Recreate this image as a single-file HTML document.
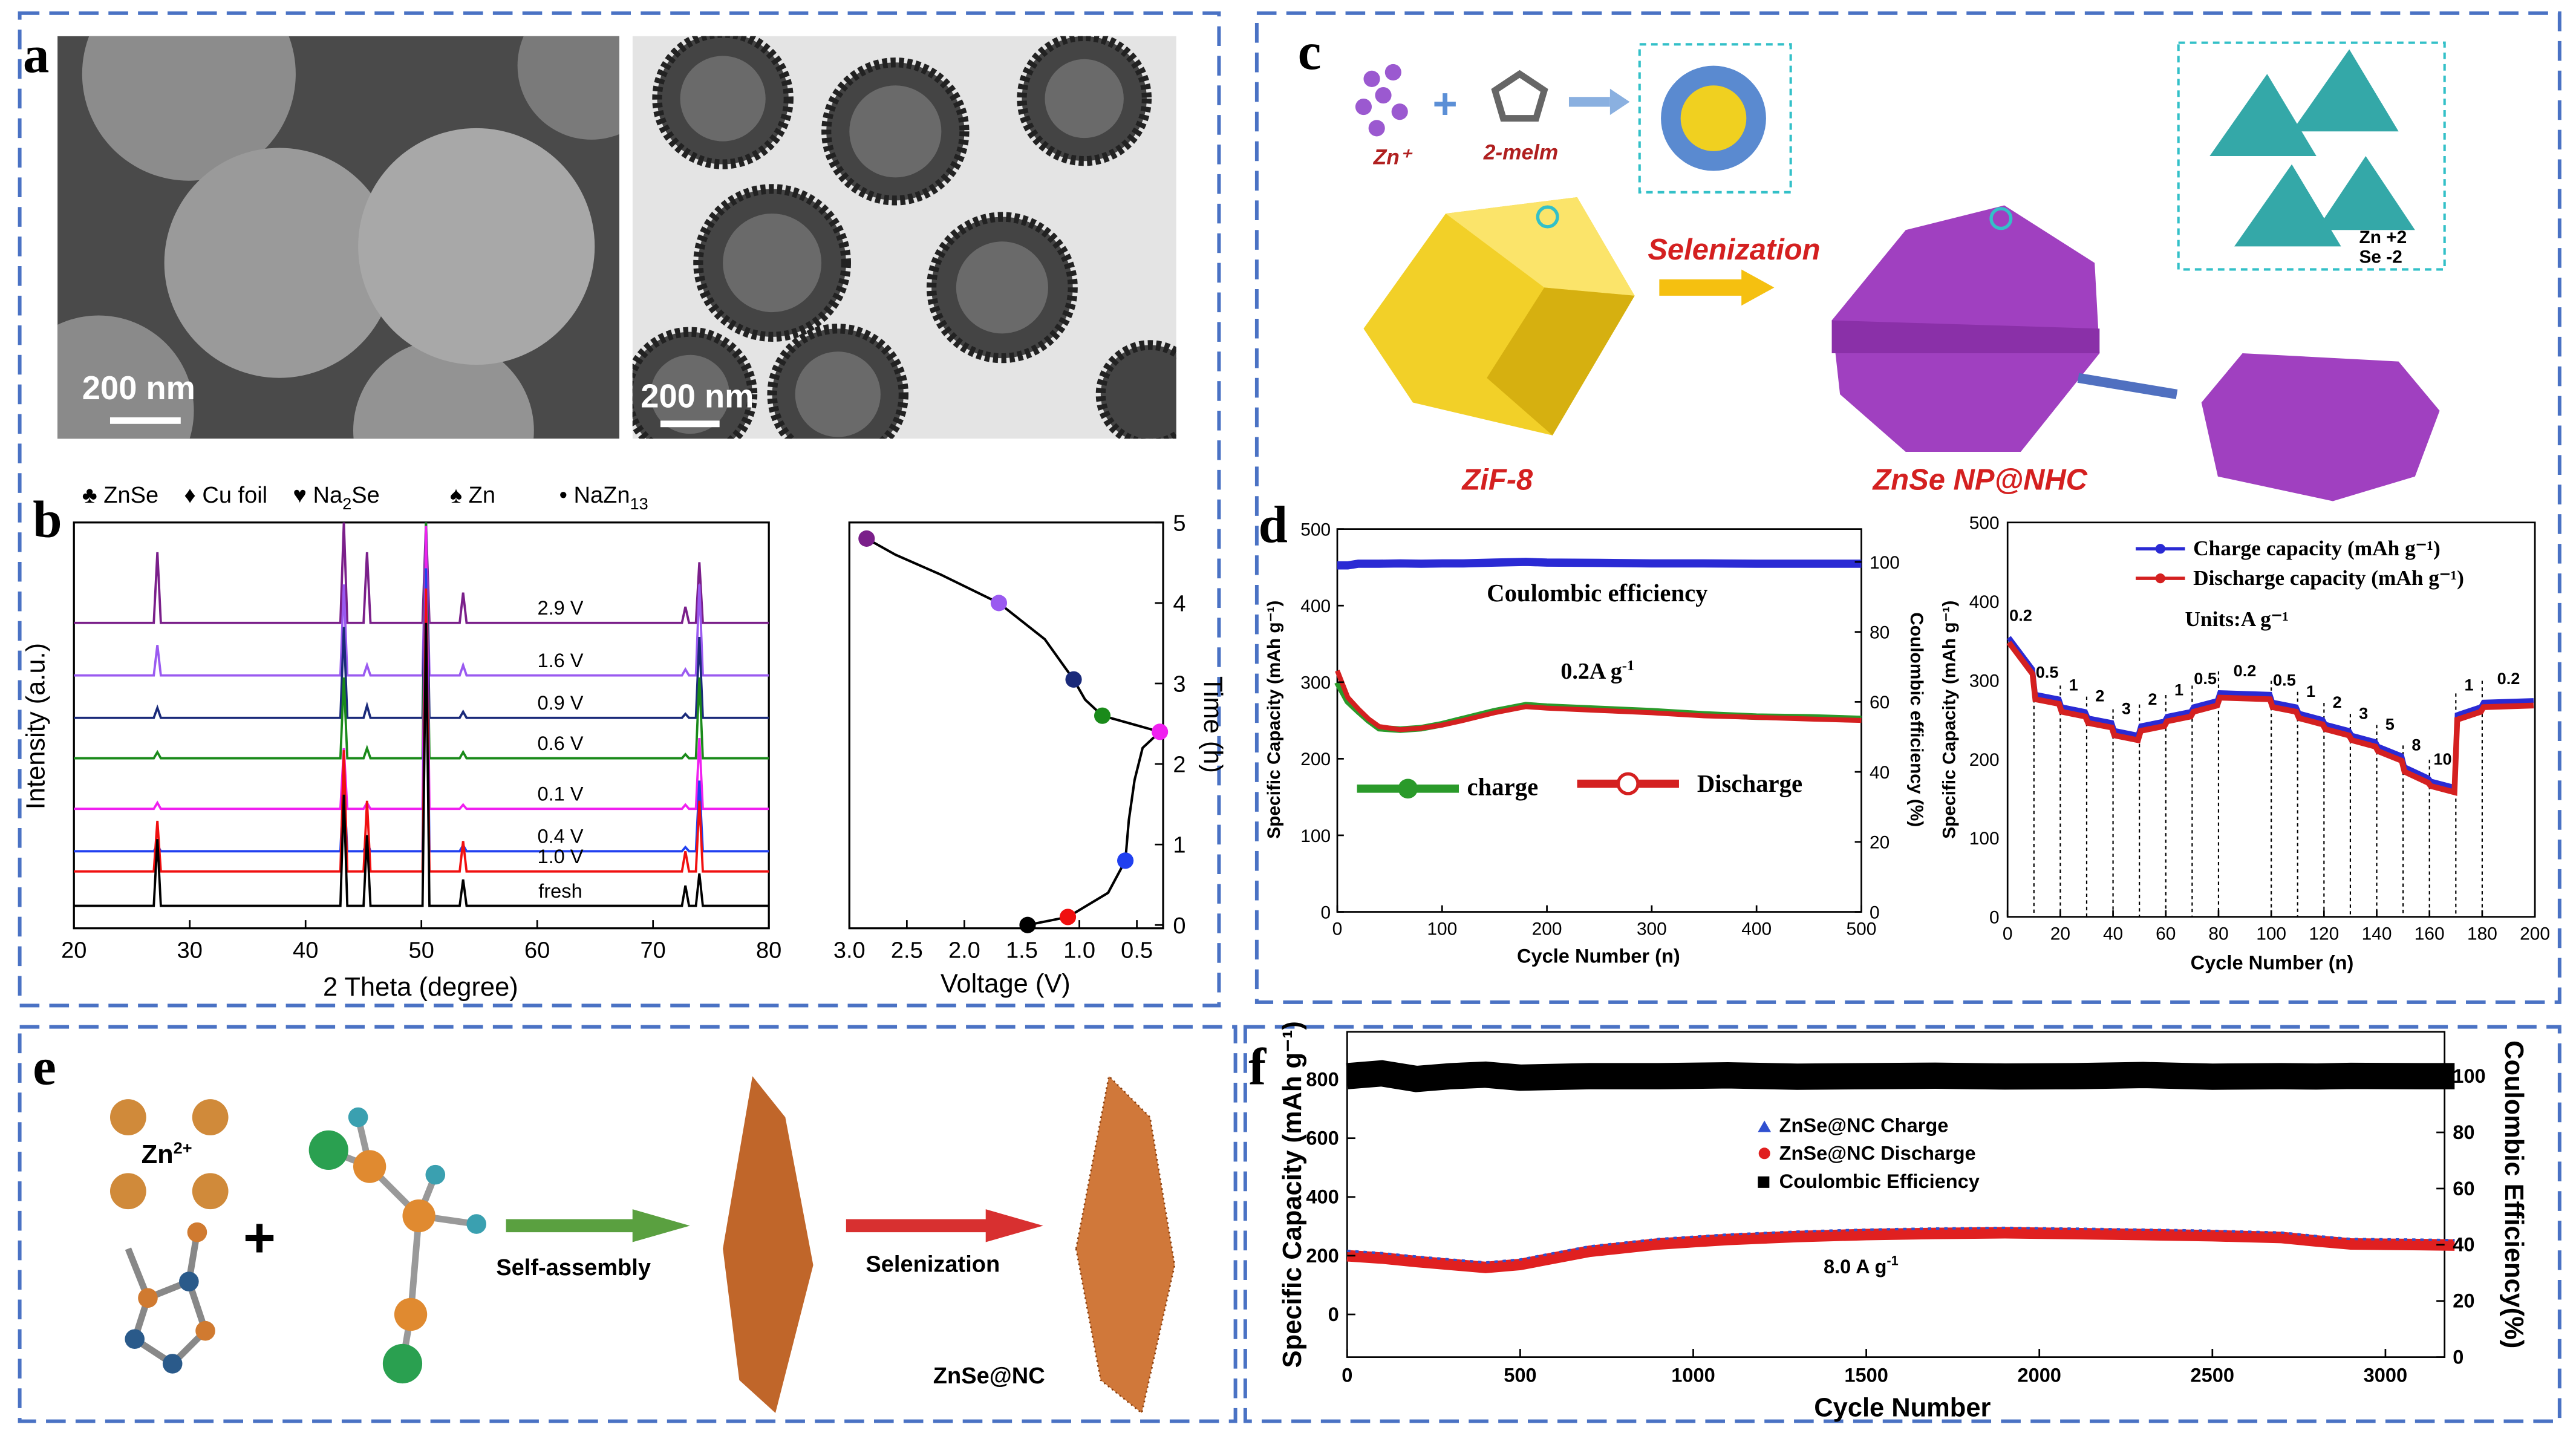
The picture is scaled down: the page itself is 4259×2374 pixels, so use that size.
<!DOCTYPE html>
<html><head><meta charset="utf-8">
<style>
html,body{margin:0;padding:0;background:#fff;}
svg{display:block;font-family:"Liberation Sans",sans-serif;}
.lt{font-family:"Liberation Serif",serif;font-weight:bold;}
</style></head>
<body>
<svg id="fig" width="4259" height="2374" viewBox="0 0 1568 874" preserveAspectRatio="none" xmlns="http://www.w3.org/2000/svg">
<defs>
<clipPath id="clipSem"><rect x="35" y="22" width="342" height="245"/></clipPath>
<clipPath id="clipTem"><rect x="385" y="22" width="331" height="245"/></clipPath>
</defs>
<rect width="1568" height="874" fill="#fff"/>
<g fill="none" stroke="#4a72c4" stroke-width="2.2" stroke-dasharray="12,6">
<rect x="12" y="8" width="730" height="604"/>
<rect x="765" y="8" width="793" height="602"/>
<rect x="12" y="625" width="740" height="240"/>
<rect x="758" y="625" width="800" height="240"/>
</g>

<!-- Panel a -->
<g>
<g clip-path="url(#clipSem)">
<rect x="35" y="22" width="342" height="245" fill="#4a4a4a"/>
<circle cx="115" cy="45" r="65" fill="#8c8c8c"/><circle cx="360" cy="40" r="45" fill="#7a7a7a"/>
<circle cx="60" cy="250" r="58" fill="#8a8a8a"/><circle cx="270" cy="262" r="55" fill="#939393"/>
<circle cx="170" cy="160" r="70" fill="#9a9a9a"/><circle cx="290" cy="150" r="72" fill="#a8a8a8"/>
</g>
<text x="50" y="243" font-size="20" font-weight="bold" fill="#fff">200 nm</text>
<rect x="67" y="254" width="43" height="4" fill="#fff"/>
<g clip-path="url(#clipTem)">
<rect x="385" y="22" width="331" height="245" fill="#e4e4e4"/>
<g fill="#444" stroke="#222" stroke-width="6" stroke-dasharray="3,2">
<circle cx="440" cy="60" r="40"/><circle cx="545" cy="80" r="42"/><circle cx="660" cy="60" r="38"/>
<circle cx="470" cy="160" r="45"/><circle cx="610" cy="175" r="43"/>
<circle cx="420" cy="240" r="38"/><circle cx="510" cy="240" r="40"/><circle cx="700" cy="240" r="30"/>
</g>
<g fill="#6a6a6a"><circle cx="440" cy="60" r="26"/><circle cx="545" cy="80" r="28"/><circle cx="660" cy="60" r="24"/><circle cx="470" cy="160" r="30"/><circle cx="610" cy="175" r="28"/><circle cx="420" cy="240" r="24"/><circle cx="510" cy="240" r="26"/></g>
</g>
<text x="390" y="248" font-size="20" font-weight="bold" fill="#fff">200 nm</text>
<rect x="402" y="256" width="36" height="4" fill="#fff"/>
<text class="lt" x="14" y="44" font-size="32">a</text>
</g>

<!-- Panel b -->
<g>
<text class="lt" x="20" y="327" font-size="32">b</text>
<rect x="45" y="318" width="423" height="247" fill="none" stroke="#000" stroke-width="1.2"/>
<g id="xrd"></g>
<g id="xrdAxis" font-size="14"></g>
<text x="256" y="606" font-size="16" text-anchor="middle">2 Theta (degree)</text>
<text transform="translate(27,442) rotate(-90)" font-size="16" text-anchor="middle">Intensity (a.u.)</text>
<text x="50" y="306" font-size="14" xml:space="preserve">♣ ZnSe    ♦ Cu foil    ♥ Na<tspan font-size="10" dy="4">2</tspan><tspan dy="-4">Se           ♠ Zn          • NaZn</tspan><tspan font-size="10" dy="4">13</tspan></text>
<rect x="517" y="318" width="191" height="247" fill="none" stroke="#000" stroke-width="1.2"/>
<g id="vt"></g>
<g id="vtAxis" font-size="14"></g>
<text x="612" y="604" font-size="16" text-anchor="middle">Voltage (V)</text>
<text transform="translate(733,441) rotate(90)" font-size="16" text-anchor="middle">Time (h)</text>
</g>

<!-- Panel c -->
<g>
<text class="lt" x="790" y="42" font-size="32">c</text>
<g fill="#9b59d0"><circle cx="835" cy="48" r="5"/><circle cx="848" cy="44" r="5"/><circle cx="842" cy="58" r="5"/><circle cx="830" cy="65" r="5"/><circle cx="852" cy="68" r="5"/><circle cx="838" cy="78" r="5"/></g>
<text x="836" y="100" font-size="13" fill="#b02020" font-style="italic" font-weight="bold">Zn⁺</text>
<text x="872" y="72" font-size="26" fill="#5b8fd6" font-weight="bold">+</text>
<polygon points="910,55 925,45 940,55 935,72 915,72" fill="none" stroke="#666" stroke-width="4"/>
<text x="903" y="97" font-size="13" fill="#b02020" font-style="italic" font-weight="bold">2-melm</text>
<path d="M955 62 L980 62" stroke="#8ab0e0" stroke-width="6"/><polygon points="980,54 992,62 980,70" fill="#8ab0e0"/>
<rect x="998" y="27" width="92" height="90" fill="none" stroke="#33c0c8" stroke-dasharray="4,3" stroke-width="1.5"/>
<circle cx="1043" cy="72" r="32" fill="#5a8ad0"/><circle cx="1043" cy="72" r="20" fill="#f0d020"/>
<polygon points="830,200 880,130 960,120 995,180 945,265 860,245" fill="#f2d028"/>
<polygon points="880,130 960,120 995,180 940,175" fill="#fbe46a"/>
<polygon points="940,175 995,180 945,265 905,230" fill="#d6b010"/>
<circle cx="942" cy="132" r="6" fill="none" stroke="#33c0c8" stroke-width="2"/>
<text x="1003" y="158" font-size="18" fill="#d42020" font-style="italic" font-weight="bold">Selenization</text>
<polygon points="1010,170 1060,170 1060,164 1080,175 1060,186 1060,180 1010,180" fill="#f5c010"/>
<polygon points="1115,195 1160,140 1220,125 1275,160 1278,215 1230,275 1160,275 1120,240" fill="#a040c0"/>
<polygon points="1115,195 1278,200 1278,215 1115,215" fill="#8a30a8"/>
<circle cx="1218" cy="133" r="6" fill="none" stroke="#33c0c8" stroke-width="2"/>
<rect x="1326" y="26" width="162" height="138" fill="none" stroke="#33c0c8" stroke-dasharray="4,3" stroke-width="1.5"/>
<g fill="#34a8a8"><polygon points="1345,95 1380,45 1410,95"/><polygon points="1395,80 1430,30 1460,80"/><polygon points="1360,150 1395,100 1425,150"/><polygon points="1410,140 1440,95 1470,140"/></g>
<text x="1436" y="148" font-size="11" font-weight="bold">Zn +2</text><text x="1436" y="160" font-size="11" font-weight="bold">Se -2</text>
<path d="M1265 230 L1325 240" stroke="#5070c0" stroke-width="6"/>
<polygon points="1340,245 1365,215 1460,220 1485,250 1470,290 1420,305 1350,290" fill="#a040c0"/>
<text x="890" y="298" font-size="18" fill="#d42020" font-style="italic" font-weight="bold">ZiF-8</text>
<text x="1140" y="298" font-size="18" fill="#d42020" font-style="italic" font-weight="bold">ZnSe NP@NHC</text>
</g>

<!-- Panel d -->
<g>
<text class="lt" x="766" y="330" font-size="32">d</text>
<rect x="814" y="322" width="319" height="233" fill="none" stroke="#000"/>
<g id="dl"></g>
<g id="dlAxis" font-size="11"></g>
<text x="905" y="366" font-size="15" font-family="Liberation Serif" font-weight="bold">Coulombic efficiency</text>
<text x="950" y="413" font-size="14" font-family="Liberation Serif" font-weight="bold">0.2A g<tspan font-size="9" dy="-5">-1</tspan></text>
<g>
<path d="M826 480 L888 480" stroke="#2a9a2a" stroke-width="5"/><circle cx="857" cy="480" r="6" fill="#2a9a2a"/>
<text x="893" y="484" font-size="15" font-family="Liberation Serif" font-weight="bold">charge</text>
<path d="M960 477 L1022 477" stroke="#d42020" stroke-width="5"/><circle cx="991" cy="477" r="6" fill="#fff" stroke="#d42020" stroke-width="2"/>
<text x="1033" y="482" font-size="15" font-family="Liberation Serif" font-weight="bold">Discharge</text>
</g>
<text transform="translate(779,438) rotate(-90)" font-size="11" font-weight="bold" text-anchor="middle">Specific Capacity (mAh g⁻¹)</text>
<text transform="translate(1163,438) rotate(90)" font-size="11" font-weight="bold" text-anchor="middle">Coulombic efficiency (%)</text>
<text x="973" y="586" font-size="12" font-weight="bold" text-anchor="middle">Cycle Number (n)</text>

<rect x="1222" y="318" width="321" height="240" fill="none" stroke="#000"/>
<g id="dr"></g>
<g id="drAxis" font-size="11"></g>
<g font-family="Liberation Serif" font-weight="bold" font-size="13">
<path d="M1300 334 L1330 334" stroke="#2a2ad4" stroke-width="2"/><circle cx="1315" cy="334" r="3" fill="#2a2ad4"/>
<text x="1335" y="338">Charge capacity (mAh g⁻¹)</text>
<path d="M1300 352 L1330 352" stroke="#d42020" stroke-width="2"/><circle cx="1315" cy="352" r="3" fill="#d42020"/>
<text x="1335" y="356">Discharge capacity (mAh g⁻¹)</text>
<text x="1330" y="381">Units:A g⁻¹</text>
</g>
<text transform="translate(1190,438) rotate(-90)" font-size="11" font-weight="bold" text-anchor="middle">Specific Capacity (mAh g⁻¹)</text>
<text x="1383" y="590" font-size="12" font-weight="bold" text-anchor="middle">Cycle Number (n)</text>
</g>

<!-- Panel e -->
<g>
<text class="lt" x="20" y="660" font-size="32">e</text>
<g fill="#d08a3a"><circle cx="78" cy="680" r="11"/><circle cx="128" cy="680" r="11"/><circle cx="78" cy="725" r="11"/><circle cx="128" cy="725" r="11"/></g>
<text x="86" y="708" font-size="16" font-weight="bold">Zn<tspan font-size="10" dy="-6">2+</tspan></text>
<g stroke="#888" stroke-width="4" fill="none"><polygon points="90,790 115,780 125,810 105,830 82,815"/><path d="M90 790 L78 760"/><path d="M115 780 L120 750"/></g>
<g fill="#d07a30"><circle cx="90" cy="790" r="6"/><circle cx="125" cy="810" r="6"/><circle cx="120" cy="750" r="6"/></g>
<g fill="#2a5a8a"><circle cx="115" cy="780" r="6"/><circle cx="105" cy="830" r="6"/><circle cx="82" cy="815" r="6"/></g>
<text x="148" y="765" font-size="34" font-weight="bold">+</text>
<g stroke="#999" stroke-width="4" fill="none"><path d="M225 710 L255 740 L250 800 L245 830 M225 710 L200 700 M225 710 L218 680 M255 740 L290 745 M255 740 L265 715"/></g>
<g fill="#e08a30"><circle cx="225" cy="710" r="10"/><circle cx="255" cy="740" r="10"/><circle cx="250" cy="800" r="10"/></g>
<g fill="#2aa050"><circle cx="200" cy="700" r="12"/><circle cx="245" cy="830" r="12"/></g>
<g fill="#3aa0b0"><circle cx="218" cy="680" r="6"/><circle cx="290" cy="745" r="6"/><circle cx="265" cy="715" r="6"/></g>
<polygon points="308,742 385,742 385,736 420,746 385,756 385,750 308,750" fill="#5aa040"/>
<text x="302" y="776" font-size="14" font-weight="bold">Self-assembly</text>
<polygon points="440,760 458,655 478,680 495,770 472,860 450,840" fill="#c0662a"/>
<polygon points="515,742 600,742 600,736 635,746 600,756 600,750 515,750" fill="#d83030"/>
<text x="527" y="774" font-size="14" font-weight="bold">Selenization</text>
<polygon points="655,760 675,655 700,680 715,770 695,860 670,840" fill="#d0783a" stroke="#8a4010" stroke-dasharray="1,2"/>
<text x="568" y="842" font-size="14" font-weight="bold">ZnSe@NC</text>
</g>

<!-- Panel f -->
<g>
<text class="lt" x="760" y="660" font-size="32">f</text>
<rect x="820" y="628" width="668" height="198" fill="none" stroke="#000"/>
<g id="fp"></g>
<g id="fAxis" font-size="12" font-weight="bold"></g>
<g font-size="12" font-weight="bold">
<polygon points="1070,689 1074,682 1078,689" fill="#3050d0"/><text x="1083" y="689">ZnSe@NC Charge</text>
<circle cx="1074" cy="702" r="3.5" fill="#e02020"/><text x="1083" y="706">ZnSe@NC  Discharge</text>
<rect x="1070" y="716" width="7" height="7" fill="#000"/><text x="1083" y="723">Coulombic Efficiency</text>
</g>
<text x="1110" y="775" font-size="12" font-weight="bold">8.0 A g<tspan font-size="8" dy="-5">-1</tspan></text>
<text transform="translate(792,727) rotate(-90)" font-size="16" font-weight="bold" text-anchor="middle">Specific Capacity (mAh g⁻¹)</text>
<text transform="translate(1525,727) rotate(90)" font-size="16" font-weight="bold" text-anchor="middle">Coulombic Efficiency(%)</text>
<text x="1158" y="862" font-size="16" font-weight="bold" text-anchor="middle">Cycle Number</text>
</g>
</svg>
<script>
// XRD
const xrdLabels=["2.9 V","1.6 V","0.9 V","0.6 V","0.1 V","0.4 V","1.0 V","fresh"];
const xrdColors=["#7a1f8a","#9a5af0","#1a2a7a","#1a8a1a","#f020f0","#2040f0","#f01010","#000000"];
const xrdBaselines=[14.3,11.7,9.6,7.6,5.1,3.0,2.0,0.3];
const xrdPeakPos=[27.2,43.3,45.3,50.4,53.6,72.8,74.0];
const xrdPeakH=[
 [3.5,5,3.5,14,1.5,0.8,3],
 [1.5,4.5,0.5,14,0.5,0.3,4.5],
 [0.5,4.5,0.6,14,0.3,0.2,4],
 [0.3,4,0.5,14,0.3,0.2,4],
 [0.3,3,0.3,14,0.2,0.2,3.5],
 [0.3,3.5,0.5,14,0.3,0.2,3.5],
 [2.5,6,3.5,14,1.5,1,3.5],
 [3.3,5.5,3.5,14,1.3,1,1.6]];
const xrdTicks=[20,30,40,50,60,70,80];
// voltage-time
const vtVolt=[1.45,1.1,0.75,0.6,0.57,0.52,0.45,0.3,0.55,0.8,0.95,1.05,1.3,1.7,2.2,2.6,2.85];
const vtTime=[0,0.1,0.4,0.8,1.3,1.8,2.2,2.4,2.5,2.6,2.8,3.05,3.55,4.0,4.35,4.6,4.8];
const vtMarkV=[1.45,1.1,0.6,0.3,0.8,1.05,1.7,2.85];
const vtMarkT=[0,0.1,0.8,2.4,2.6,3.05,4.0,4.8];
const vtMarkC=["#000","#f01010","#2040f0","#f020f0","#1a8a1a","#1a2a7a","#9a5af0","#7a1f8a"];
const vTicks=[3.0,2.5,2.0,1.5,1.0,0.5];
const tTicks=[0,1,2,3,4,5];
// panel d left
const dlCycles=[0,10,20,30,40,60,80,100,120,150,180,200,250,300,350,400,450,500];
const dlCharge=[300,275,262,250,240,238,240,245,252,262,270,268,265,262,258,255,254,252];
const dlDischarge=[315,280,265,252,242,238,240,244,250,260,268,266,263,260,256,254,252,250];
const dlCE=[99,99,99.5,99.5,99.5,99.6,99.5,99.6,99.6,99.8,100,99.8,99.7,99.6,99.6,99.5,99.5,99.5];
const dlXTicks=[0,100,200,300,400,500];
const dlYTicks=[0,100,200,300,400,500];
const dlRTicks=[0,20,40,60,80,100];
// panel d right (rate)
const rateLabels=["0.2","0.5","1","2","3","2","1","0.5","0.2","0.5","1","2","3","5","8","10","1","0.2"];
const rateBounds=[0,10,20,30,40,50,60,70,80,100,110,120,130,140,150,160,170,180,200];
const rateStart=[350,278,262,248,232,238,250,262,280,268,254,240,226,212,186,168,252,268];
const rateEnd=[310,272,256,242,226,244,256,270,278,262,246,232,218,200,172,160,262,270];
// panel f
const fCycles=[0,100,200,300,400,500,700,900,1100,1300,1500,1700,1900,2100,2300,2500,2700,2800,2900,3100,3200];
const fCap=[200,192,180,170,160,170,215,240,255,265,272,276,278,275,272,268,262,250,240,238,236];
const fCE=[100,101,99,100,100.5,99.5,100,100,100.3,99.8,100,100.2,99.9,100,100.4,99.8,100,99.9,100.1,100,100];
const fXTicks=[0,500,1000,1500,2000,2500,3000];
const fYTicks=[0,200,400,600,800];
const fRTicks=[0,20,40,60,80,100];

const NS="http://www.w3.org/2000/svg";
function mk(tag,attrs,parent,txt){const e=document.createElementNS(NS,tag);for(const k in attrs)e.setAttribute(k,attrs[k]);if(txt!==undefined)e.textContent=txt;parent.appendChild(e);return e;}

// XRD
(function(){
 const g=document.getElementById('xrd'),ax=document.getElementById('xrdAxis');
 const X=t=>45+(t-20)*423/60, Y=v=>555-v*12.3;
 xrdLabels.forEach((lab,i)=>{
  const pts=[];
  pts.push([20,xrdBaselines[i]]);
  xrdPeakPos.forEach((p,j)=>{const h=Math.min(xrdPeakH[i][j],(555-318)/12.3-xrdBaselines[i]);pts.push([p-0.3,xrdBaselines[i]]);pts.push([p,xrdBaselines[i]+h]);pts.push([p+0.3,xrdBaselines[i]]);});
  pts.push([80,xrdBaselines[i]]);
  const l=mk('polyline',{points:pts.map(q=>X(q[0]).toFixed(1)+','+Y(q[1]).toFixed(1)).join(' '),fill:'none',stroke:xrdColors[i],'stroke-width':1.4},g);
  
  
  const t=mk('text',{x:X(62),y:Y(xrdBaselines[i])-5,'font-size':12,'text-anchor':'middle'},g,lab);
  
  
 });
 xrdTicks.forEach(v=>{mk('line',{x1:X(v),x2:X(v),y1:565,y2:560,stroke:'#000'},ax);mk('text',{x:X(v),y:583,'text-anchor':'middle'},ax,v);});
})();
// voltage time
(function(){
 const g=document.getElementById('vt'),ax=document.getElementById('vtAxis');
 const X=v=>517+(3-v)*70, Y=t=>563-t*49;
 const p=mk('polyline',{points:vtVolt.map((v,i)=>X(v).toFixed(1)+','+Y(vtTime[i]).toFixed(1)).join(' '),fill:'none',stroke:'#000','stroke-width':1.5,'stroke-linejoin':'round'},g);
 
 
 vtMarkV.forEach((v,i)=>{const c=mk('circle',{cx:X(v),cy:Y(vtMarkT[i]),r:5,fill:vtMarkC[i]},g);
  
  });
 vTicks.forEach(v=>{mk('line',{x1:X(v),x2:X(v),y1:565,y2:560,stroke:'#000'},ax);mk('text',{x:X(v),y:583,'text-anchor':'middle'},ax,v.toFixed(1));});
 tTicks.forEach(t=>{mk('line',{x1:708,x2:703,y1:Y(t),y2:Y(t),stroke:'#000'},ax);mk('text',{x:714,y:Y(t)+5},ax,t);});
})();
// panel d left
(function(){
 const g=document.getElementById('dl'),ax=document.getElementById('dlAxis');
 const X=c=>814+c*319/500, Y=v=>555-v*233/500, R=p=>555-p*213/100;
 const line=(ys,fn,col,w)=>mk('polyline',{points:dlCycles.map((c,i)=>X(c).toFixed(1)+','+fn(ys[i]).toFixed(1)).join(' '),fill:'none',stroke:col,'stroke-width':w},g);
 const ce=line(dlCE,R,'#2a2ad4',5);
 
 
 const ch=line(dlCharge,Y,'#2a9a2a',4);
 
 
 const dc=line(dlDischarge,Y,'#d42020',3);
 
 
 dlXTicks.forEach(v=>{mk('line',{x1:X(v),x2:X(v),y1:555,y2:551,stroke:'#000'},ax);mk('text',{x:X(v),y:569,'text-anchor':'middle'},ax,v);});
 dlYTicks.forEach(v=>{mk('line',{x1:814,x2:818,y1:Y(v),y2:Y(v),stroke:'#000'},ax);mk('text',{x:810,y:Y(v)+4,'text-anchor':'end'},ax,v);});
 dlRTicks.forEach(v=>{mk('line',{x1:1133,x2:1129,y1:R(v),y2:R(v),stroke:'#000'},ax);mk('text',{x:1138,y:R(v)+4},ax,v);});
})();
// panel d right
(function(){
 const g=document.getElementById('dr'),ax=document.getElementById('drAxis');
 const X=c=>1222+c*321/200, Y=v=>558-v*240/500;
 const pts=[];
 rateStart.forEach((s,i)=>{const a=rateBounds[i],b=rateBounds[i+1];
  pts.push([a+0.5,s]);pts.push([b-0.5,rateEnd[i]]);
  if(i>0){mk('line',{x1:X(a),x2:X(a),y1:Y(rateStart[i])-15,y2:558,stroke:'#000','stroke-dasharray':'2,2','stroke-width':0.8},g);}
  const t=mk('text',{x:X((a+b)/2),y:Y(Math.max(s,rateEnd[i]))-12,'font-size':10,'font-weight':'bold','text-anchor':'middle'},g,rateLabels[i]);
  
  
 });
 const p=mk('polyline',{points:pts.map(q=>X(q[0]).toFixed(1)+','+(Y(q[1])-2).toFixed(1)).join(' '),fill:'none',stroke:'#2a2ad4','stroke-width':3},g);
 
 
 const d=mk('polyline',{points:pts.map(q=>X(q[0]).toFixed(1)+','+(Y(q[1])+1).toFixed(1)).join(' '),fill:'none',stroke:'#d42020','stroke-width':3.5},g);
 
 
 [0,20,40,60,80,100,120,140,160,180,200].forEach(v=>{mk('line',{x1:X(v),x2:X(v),y1:558,y2:554,stroke:'#000'},ax);mk('text',{x:X(v),y:572,'text-anchor':'middle'},ax,v);});
 [0,100,200,300,400,500].forEach(v=>{mk('text',{x:1217,y:Y(v)+4,'text-anchor':'end'},ax,v);});
})();
// panel f
(function(){
 const g=document.getElementById('fp'),ax=document.getElementById('fAxis');
 const X=c=>820+c*632/3000, Y=v=>800-v*143/800, R=p=>826-p*171/100;
 const ce=mk('polyline',{points:fCycles.map((c,i)=>X(c).toFixed(1)+','+R(fCE[i]).toFixed(1)).join(' '),fill:'none',stroke:'#000','stroke-width':16},g);
 
 
 const cap=mk('polyline',{points:fCycles.map((c,i)=>X(c).toFixed(1)+','+Y(fCap[i]).toFixed(1)).join(' '),fill:'none',stroke:'#e02020','stroke-width':7},g);
 
 
 const cap2=mk('polyline',{points:fCycles.map((c,i)=>X(c).toFixed(1)+','+(Y(fCap[i])-3).toFixed(1)).join(' '),fill:'none',stroke:'#3050d0','stroke-width':1.5,'stroke-dasharray':'2,3'},g);
 
 
 fXTicks.forEach(v=>{mk('line',{x1:X(v),x2:X(v),y1:826,y2:821,stroke:'#000'},ax);mk('text',{x:X(v),y:841,'text-anchor':'middle'},ax,v);});
 fYTicks.forEach(v=>{mk('line',{x1:820,x2:825,y1:Y(v),y2:Y(v),stroke:'#000'},ax);mk('text',{x:815,y:Y(v)+4,'text-anchor':'end'},ax,v);});
 fRTicks.forEach(v=>{mk('line',{x1:1488,x2:1483,y1:R(v),y2:R(v),stroke:'#000'},ax);mk('text',{x:1493,y:R(v)+4},ax,v);});
})();
</script>
</body></html>
